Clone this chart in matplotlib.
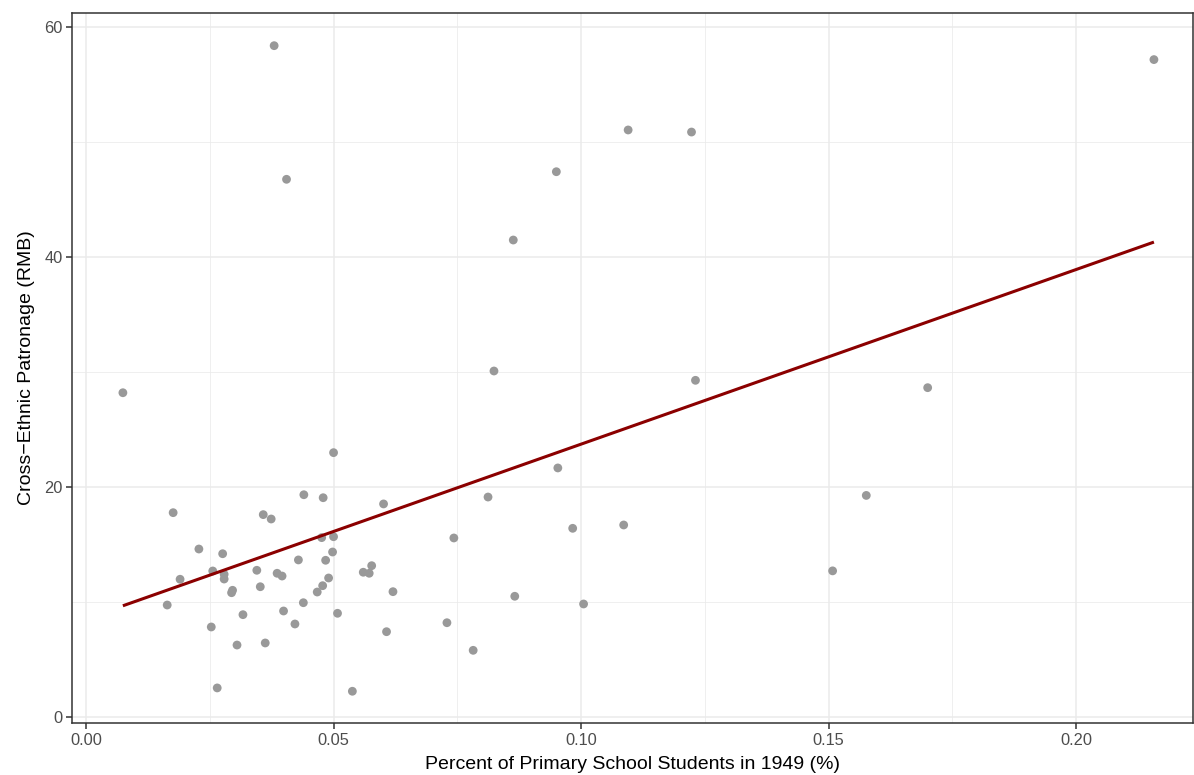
import numpy as np
import matplotlib
matplotlib.use("Agg")
import matplotlib.pyplot as plt
from matplotlib.ticker import MultipleLocator, FormatStrFormatter

plt.rcParams['font.family'] = ['Liberation Sans', 'DejaVu Sans']

# share of primary school students in 1949, and cross-ethnic patronage (RMB)
pct_students = [
    0.00745, 0.0380, 0.0405, 0.1095, 0.1223, 0.0950, 0.0863, 0.0824, 0.1231,
    0.1700, 0.2157, 0.1576, 0.1508, 0.0953, 0.0812, 0.0743, 0.0983, 0.1086,
    0.0866, 0.1005, 0.0729, 0.0782, 0.0176, 0.0228, 0.0276, 0.0256, 0.0279,
    0.0279, 0.0345, 0.0190, 0.0358, 0.0374, 0.0386, 0.0396, 0.0296, 0.0294,
    0.0352, 0.0429, 0.0164, 0.0317, 0.0399, 0.0422, 0.0253, 0.0305, 0.0362,
    0.0265, 0.0500, 0.0440, 0.0479, 0.0601, 0.0476, 0.0500, 0.0498, 0.0484,
    0.0560, 0.0572, 0.0577, 0.0490, 0.0478, 0.0467, 0.0620, 0.0439, 0.0508,
    0.0538, 0.0607,
]
patronage = [
    28.17, 58.35, 46.73, 51.02, 50.84, 47.39, 41.45, 30.06, 29.25,
    28.61, 57.14, 19.24, 12.68, 21.63, 19.10, 15.54, 16.38, 16.67,
    10.47, 9.80, 8.17, 5.77, 17.74, 14.58, 14.17, 12.67, 12.38,
    11.97, 12.73, 11.95, 17.57, 17.19, 12.47, 12.23, 10.99, 10.78,
    11.30, 13.63, 9.71, 8.87, 9.19, 8.06, 7.80, 6.23, 6.41,
    2.50, 22.96, 19.30, 19.04, 18.50, 15.57, 15.65, 14.32, 13.60,
    12.56, 12.47, 13.13, 12.06, 11.39, 10.84, 10.87, 9.91, 8.99,
    2.21, 7.39,
]

x = np.array(pct_students)
y = np.array(patronage)

fig = plt.figure(figsize=(11.94, 7.75), dpi=100)
ax = fig.add_axes([0.0603, 0.0671, 0.9389, 0.9161])

# theme_bw style panel
grid_col = '#EBEBEB'
ax.set_axisbelow(True)
ax.xaxis.set_major_locator(MultipleLocator(0.05))
ax.xaxis.set_minor_locator(MultipleLocator(0.025))
ax.yaxis.set_major_locator(MultipleLocator(20))
ax.yaxis.set_minor_locator(MultipleLocator(10))
ax.grid(which='major', color=grid_col, lw=1.1)
ax.grid(which='minor', color=grid_col, lw=0.55)
ax.xaxis.set_major_formatter(FormatStrFormatter('%.2f'))
ax.tick_params(which='minor', length=0)
ax.tick_params(which='major', length=4, width=1.1, color='#333333',
               labelcolor='#4D4D4D', labelsize=11.8, pad=2.5)
ax.tick_params(axis='x', pad=3.3)
for sp in ax.spines.values():
    sp.set_color('#333333')
    sp.set_linewidth(1.1)

ax.scatter(x, y, s=40, color='#999999', edgecolors='none', zorder=2)

# OLS fit line over the data range
slope, intercept = np.polyfit(x, y, 1)
xs = np.array([x.min(), x.max()])
ax.plot(xs, intercept + slope * xs, color='#8B0000', lw=2.2, zorder=3,
        solid_capstyle='butt')

ax.set_xlim(-0.00283, 0.2236)
ax.set_ylim(-0.55, 61.19)

ax.set_xlabel('Percent of Primary School Students in 1949 (%)', fontsize=14,
              color='black', labelpad=5.5)
ax.set_ylabel('Cross\u2212Ethnic Patronage (RMB)', fontsize=14,
              color='black', labelpad=7)

fig.savefig('out.png', dpi=100)
